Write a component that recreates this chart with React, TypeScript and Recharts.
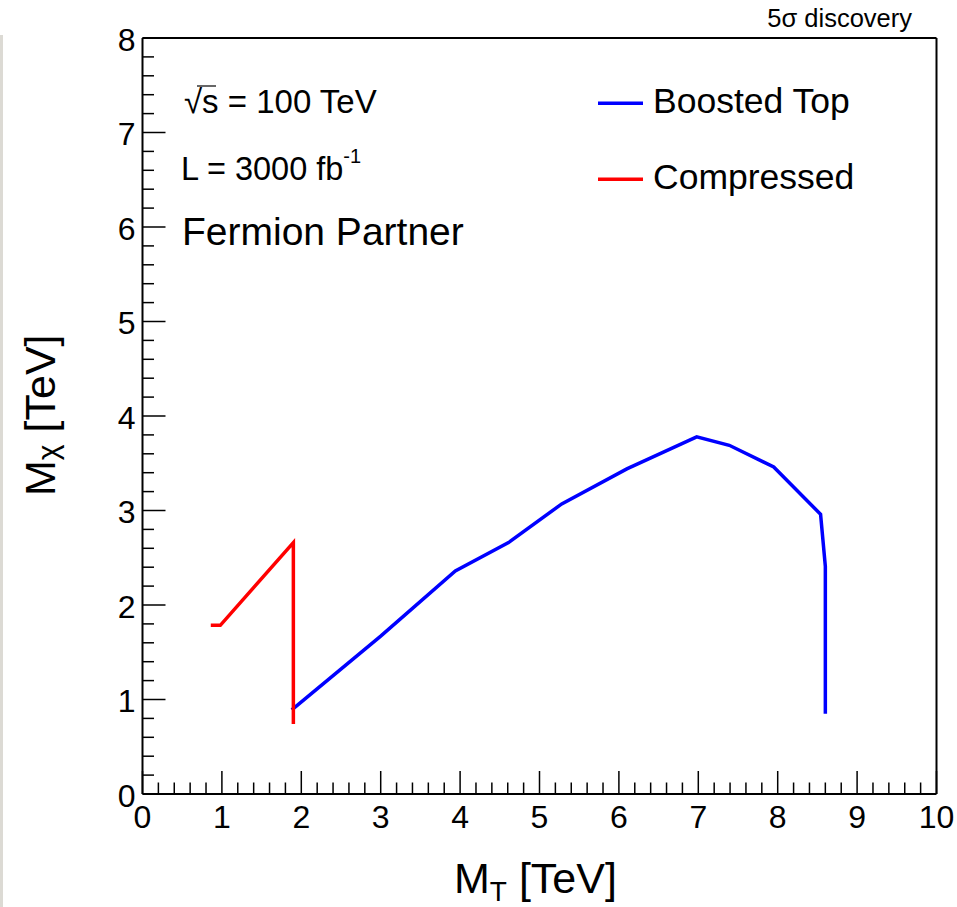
import React from 'react';
import { LineChart, Line, XAxis, YAxis, Legend } from 'recharts';

// ---- data ----
const boostedTopMT = [1.88, 3.0, 3.94, 4.61, 5.28, 6.1, 6.98, 7.39, 7.95, 8.54, 8.6, 8.6];
const boostedTopMChi = [0.89, 1.67, 2.36, 2.66, 3.07, 3.44, 3.78, 3.69, 3.46, 2.96, 2.41, 0.85];
const compressedMT = [0.86, 0.98, 1.9, 1.9];
const compressedMChi = [1.785, 1.785, 2.66, 0.74];

const xMajorTicks = [0, 1, 2, 3, 4, 5, 6, 7, 8, 9, 10];
const yMajorTicks = [0, 1, 2, 3, 4, 5, 6, 7, 8];
const minorStep = 0.2;

const boostedData = boostedTopMT.map((x, i) => ({ x, y: boostedTopMChi[i] }));
const compressedData = compressedMT.map((x, i) => ({ x, y: compressedMChi[i] }));

const buildTicks = (major: number[]) => {
  const out: number[] = [];
  const max = major[major.length - 1];
  const n = Math.round(max / minorStep);
  for (let k = 0; k <= n; k++) out.push(Math.round(k * minorStep * 10) / 10);
  return out;
};
const xTicks = buildTicks(xMajorTicks);
const yTicks = buildTicks(yMajorTicks);

const FONT = '"Liberation Sans", Arial, Helvetica, sans-serif';
const isMajor = (v: number) => Math.abs(v - Math.round(v)) < 1e-6;
const MAJ = 23;
const MIN = 11.5;

const BottomTick = (p: any) => {
  const { x, y, payload } = p;
  const v = payload.value;
  const m = isMajor(v);
  return (
    <g>
      <line x1={x} y1={y} x2={x} y2={y - (m ? MAJ : MIN)} stroke="#000" strokeWidth={1.5} />
      {m && (
        <text x={x} y={y + 34} textAnchor="middle" fontFamily={FONT} fontSize={32} fill="#000">
          {v}
        </text>
      )}
    </g>
  );
};
const TopTick = (p: any) => {
  const { x, y, payload } = p;
  const m = isMajor(payload.value);
  return <line x1={x} y1={y} x2={x} y2={y + (m ? MAJ - 1 : MIN - 0.5)} stroke="#000" strokeWidth={1.5} />;
};
const LeftTick = (p: any) => {
  const { x, y, payload } = p;
  const v = payload.value;
  const m = isMajor(v);
  return (
    <g>
      <line x1={x} y1={y} x2={x + (m ? MAJ : MIN)} y2={y} stroke="#000" strokeWidth={1.5} />
      {m && (
        <text x={x - 7} y={y + 12.5} textAnchor="end" fontFamily={FONT} fontSize={32} fill="#000">
          {v}
        </text>
      )}
    </g>
  );
};
const RightTick = (p: any) => {
  const { x, y, payload } = p;
  const m = isMajor(payload.value);
  return <line x1={x} y1={y} x2={x - (m ? MAJ : MIN)} y2={y} stroke="#000" strokeWidth={1.5} />;
};

const renderLegend = (props: any) => {
  const items = props.payload || [];
  return (
    <svg width={290} height={140} style={{ display: 'block' }}>
      {items.map((it: any, i: number) => {
        const ly = 43.3 + i * 76;
        return (
          <g key={i}>
            <line x1={8} y1={ly} x2={53} y2={ly} stroke={it.color} strokeWidth={3.5} />
            <text x={63} y={ly + 10} fontFamily={FONT} fontSize={35.5} fill="#000">
              {it.value}
            </text>
          </g>
        );
      })}
    </svg>
  );
};

const AX = 1; // axis box size

export default function App() {
  return (
    <div style={{ position: 'absolute', left: 0, top: 0, width: 957, height: 907, background: '#fff' }}>
      <div style={{ position: 'absolute', left: 0, top: 35, width: 3, height: 872, background: '#dcdad4' }} />
      <LineChart
        width={957}
        height={907}
        margin={{ top: 38 - AX, right: 20.5 - AX, bottom: 113 - AX, left: 142.5 - AX }}
      >
        <XAxis
          dataKey="x"
          type="number"
          domain={[0, 10]}
          ticks={xTicks}
          interval={0}
          height={AX}
          tickSize={0}
          tickMargin={0}
          tickLine={false}
          axisLine={{ stroke: '#000', strokeWidth: 2 }}
          tick={(p: any) => <BottomTick {...p} />}
          allowDataOverflow
        />
        <XAxis
          xAxisId="top"
          orientation="top"
          type="number"
          domain={[0, 10]}
          ticks={xTicks}
          interval={0}
          height={AX}
          tickSize={0}
          tickMargin={0}
          tickLine={false}
          axisLine={{ stroke: '#000', strokeWidth: 2 }}
          tick={(p: any) => <TopTick {...p} />}
        />
        <YAxis
          type="number"
          domain={[0, 8]}
          ticks={yTicks}
          interval={0}
          width={AX}
          tickSize={0}
          tickMargin={0}
          tickLine={false}
          axisLine={{ stroke: '#000', strokeWidth: 2 }}
          tick={(p: any) => <LeftTick {...p} />}
          allowDataOverflow
        />
        <YAxis
          yAxisId="right"
          orientation="right"
          type="number"
          domain={[0, 8]}
          ticks={yTicks}
          interval={0}
          width={AX}
          tickSize={0}
          tickMargin={0}
          tickLine={false}
          axisLine={{ stroke: '#000', strokeWidth: 2 }}
          tick={(p: any) => <RightTick {...p} />}
        />
        <Line
          data={boostedData}
          dataKey="y"
          name="Boosted Top"
          stroke="#0000ff"
          strokeWidth={3.5}
          dot={false}
          activeDot={false}
          isAnimationActive={false}
          strokeLinejoin="miter"
        />
        <Line
          data={compressedData}
          dataKey="y"
          name="Compressed"
          stroke="#ff0000"
          strokeWidth={3.5}
          dot={false}
          activeDot={false}
          isAnimationActive={false}
          strokeLinejoin="miter"
        />
        <Legend
          layout="vertical"
          align="center"
          verticalAlign="middle"
          wrapperStyle={{ position: 'absolute', left: 590, top: 60, width: 290, height: 140 }}
          content={renderLegend}
        />
      </LineChart>
      <svg
        width={957}
        height={907}
        style={{ position: 'absolute', left: 0, top: 0, pointerEvents: 'none' }}
      >
        <text x={912} y={26.7} textAnchor="end" fontFamily={FONT} fontSize={25.5} fill="#000">
          5σ discovery
        </text>
        <text x={184} y={113.3} fontFamily={FONT} fontSize={33} fill="#000">
          √s = 100 TeV
        </text>
        <line x1={197} y1={86} x2={216} y2={86} stroke="#000" strokeWidth={1.2} />
        <text x={181} y={180} fontFamily={FONT} fontSize={32.5} fill="#000">
          L = 3000 fb
          <tspan fontSize={20} dy={-17}>-1</tspan>
        </text>
        <text x={182} y={245} fontFamily={FONT} fontSize={39} fill="#000">
          Fermion Partner
        </text>
        <text x={454} y={893} fontFamily={FONT} fontSize={43} fill="#000">
          M
          <tspan fontSize={28} dy={8}>T</tspan>
          <tspan dy={-8}> [TeV]</tspan>
        </text>
        <text
          x={0}
          y={0}
          transform="translate(55,496) rotate(-90)"
          fontFamily={FONT}
          fontSize={43}
          fill="#000"
        >
          M
          <tspan fontSize={30} dy={3}>χ</tspan>
          <tspan dy={-3}> [TeV]</tspan>
        </text>
      </svg>
    </div>
  );
}
